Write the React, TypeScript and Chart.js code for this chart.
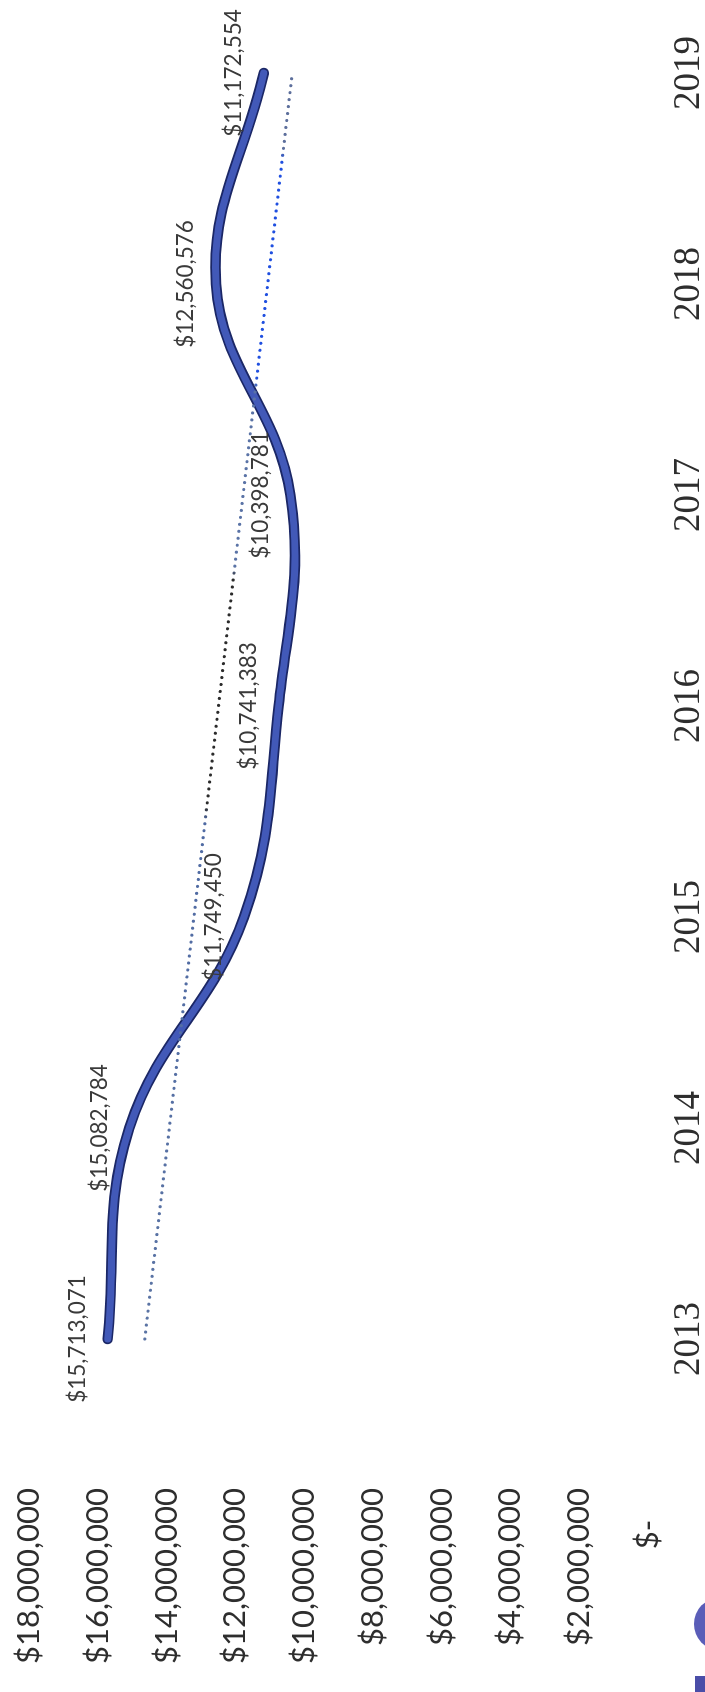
import React, { useEffect, useRef } from "react";
import { Chart, registerables } from "chart.js";

Chart.register(...registerables);

// ---- data ----
const years = ["2013", "2014", "2015", "2016", "2017", "2018", "2019"];
const revenue = [15713071, 15082784, 11749450, 10741383, 10398781, 12560576, 11172554];
const trendPositions = [0, 6];
const trendValues = [14633000, 10344000];
const valueTicks = [0, 2000000, 4000000, 6000000, 8000000, 10000000, 12000000, 14000000, 16000000, 18000000];

// unrotated canvas size (rotated -90deg on screen)
const W = 1692;
const H = 705;

const fmtMoney = (v: number) => "$" + Math.round(v).toLocaleString("en-US");

const dataLabels = {
  id: "dataLabels",
  afterDatasetsDraw(chart: any) {
    const meta = chart.getDatasetMeta(1);
    const c = chart.ctx;
    c.save();
    c.font = "22.5px Lato";
    c.fillStyle = "#3a3a3a";
    c.textAlign = "center";
    c.textBaseline = "middle";
    meta.data.forEach((pt: any, i: number) => {
      c.fillText(fmtMoney(revenue[i]), pt.x, pt.y - 30);
    });
    c.restore();
  },
};

function trendColor(ctx: any) {
  const chart = ctx.chart;
  const xs = chart.scales?.x;
  if (!chart.chartArea || !xs) return "#5872a3";
  const x0 = xs.getPixelForValue(0);
  const x1 = xs.getPixelForValue(6);
  const g = chart.ctx.createLinearGradient(x0, 0, x1, 0);
  const stops: [number, string][] = [
    [0, "#5b74a4"],
    [0.41, "#4f6aa3"],
    [0.42, "#2b2b2b"],
    [0.6, "#2b2b2b"],
    [0.61, "#5a73a6"],
    [0.75, "#5a73a6"],
    [0.76, "#1f4fe0"],
    [0.93, "#1f4fe0"],
    [0.94, "#5d6f9c"],
    [1, "#5d6f9c"],
  ];
  stops.forEach(([o, col]) => g.addColorStop(o, col));
  return g;
}

export default function App() {
  const ref = useRef<HTMLCanvasElement | null>(null);

  useEffect(() => {
    if (!ref.current) return;
    const pts = revenue.map((v, i) => ({ x: i, y: v }));
    const trend = trendValues.map((v, i) => ({ x: trendPositions[i], y: v }));
    const chart = new Chart(ref.current, {
      type: "line",
      data: {
        datasets: [
          {
            label: "trend",
            data: trend,
            borderColor: trendColor as any,
            borderWidth: 3.2,
            borderDash: [0.01, 7],
            borderCapStyle: "round",
            pointRadius: 0,
            tension: 0,
            fill: false,
            order: 0,
          },
          {
            label: "core",
            data: pts,
            borderColor: "#4259b8",
            borderWidth: 7,
            borderCapStyle: "round",
            borderJoinStyle: "round",
            pointRadius: 0,
            tension: 0.4,
            fill: false,
            order: 1,
          },
          {
            label: "outline",
            data: pts,
            borderColor: "#1b2766",
            borderWidth: 10.5,
            borderCapStyle: "round",
            borderJoinStyle: "round",
            pointRadius: 0,
            tension: 0.4,
            fill: false,
            order: 2,
          },
        ],
      },
      options: {
        animation: false,
        responsive: false,
        devicePixelRatio: 1,
        layout: { padding: { top: 29, left: 0, right: 0, bottom: 0 } },
        plugins: {
          legend: { display: false },
          tooltip: { enabled: false },
          title: { display: false },
        },
        scales: {
          x: {
            type: "linear",
            min: -0.5,
            max: -0.5 + (W - 247.5) / 211,
            grid: { display: false, drawTicks: false },
            border: { display: false },
            afterBuildTicks: (scale: any) => {
              scale.ticks = years.map((_, i) => ({ value: i }));
            },
            afterFit: (scale: any) => {
              scale.height = 57;
              scale.paddingLeft = 0;
              scale.paddingRight = 0;
            },
            ticks: {
              autoSkip: false,
              maxRotation: 0,
              minRotation: 0,
              padding: 19,
              color: "#2e2e2e",
              font: { family: "'Liberation Serif', serif", size: 37 },
              callback: (v: any) => years[Math.round(Number(v))] ?? "",
            },
          },
          y: {
            type: "linear",
            min: 0,
            max: 18000000,
            grid: { display: false, drawTicks: false },
            border: { display: false },
            afterBuildTicks: (scale: any) => {
              scale.ticks = valueTicks.map((v) => ({ value: v }));
            },
            afterFit: (scale: any) => {
              scale.width = 247.5;
              scale.paddingTop = 0;
              scale.paddingBottom = 0;
            },
            ticks: {
              autoSkip: false,
              padding: 43.5,
              color: "#2e2e2e",
              font: { family: "Lato, 'Liberation Sans', sans-serif", size: 31 },
              callback: (v: any) => (Number(v) === 0 ? "$-    " : fmtMoney(Number(v))),
            },
          },
        },
      },
      plugins: [dataLabels],
    });
    return () => chart.destroy();
  }, []);

  return (
    <div
      style={{
        position: "fixed",
        left: 0,
        top: 0,
        width: 705,
        height: 1692,
        overflow: "hidden",
        background: "#ffffff",
      }}
    >
      <div
        style={{
          position: "absolute",
          left: 0,
          top: 0,
          width: W,
          height: H,
          transformOrigin: "0 0",
          transform: `translateY(${W}px) rotate(-90deg)`,
        }}
      >
        <canvas ref={ref} width={W} height={H} style={{ width: W, height: H, display: "block" }} />
      </div>
      <div
        style={{
          position: "absolute",
          left: 694,
          top: 1598,
          width: 50,
          height: 52,
          borderRadius: "50%",
          background: "#5a5db8",
        }}
      />
      <div
        style={{
          position: "absolute",
          left: 695,
          top: 1676,
          width: 12,
          height: 16,
          background: "#4a4da8",
        }}
      />
    </div>
  );
}
